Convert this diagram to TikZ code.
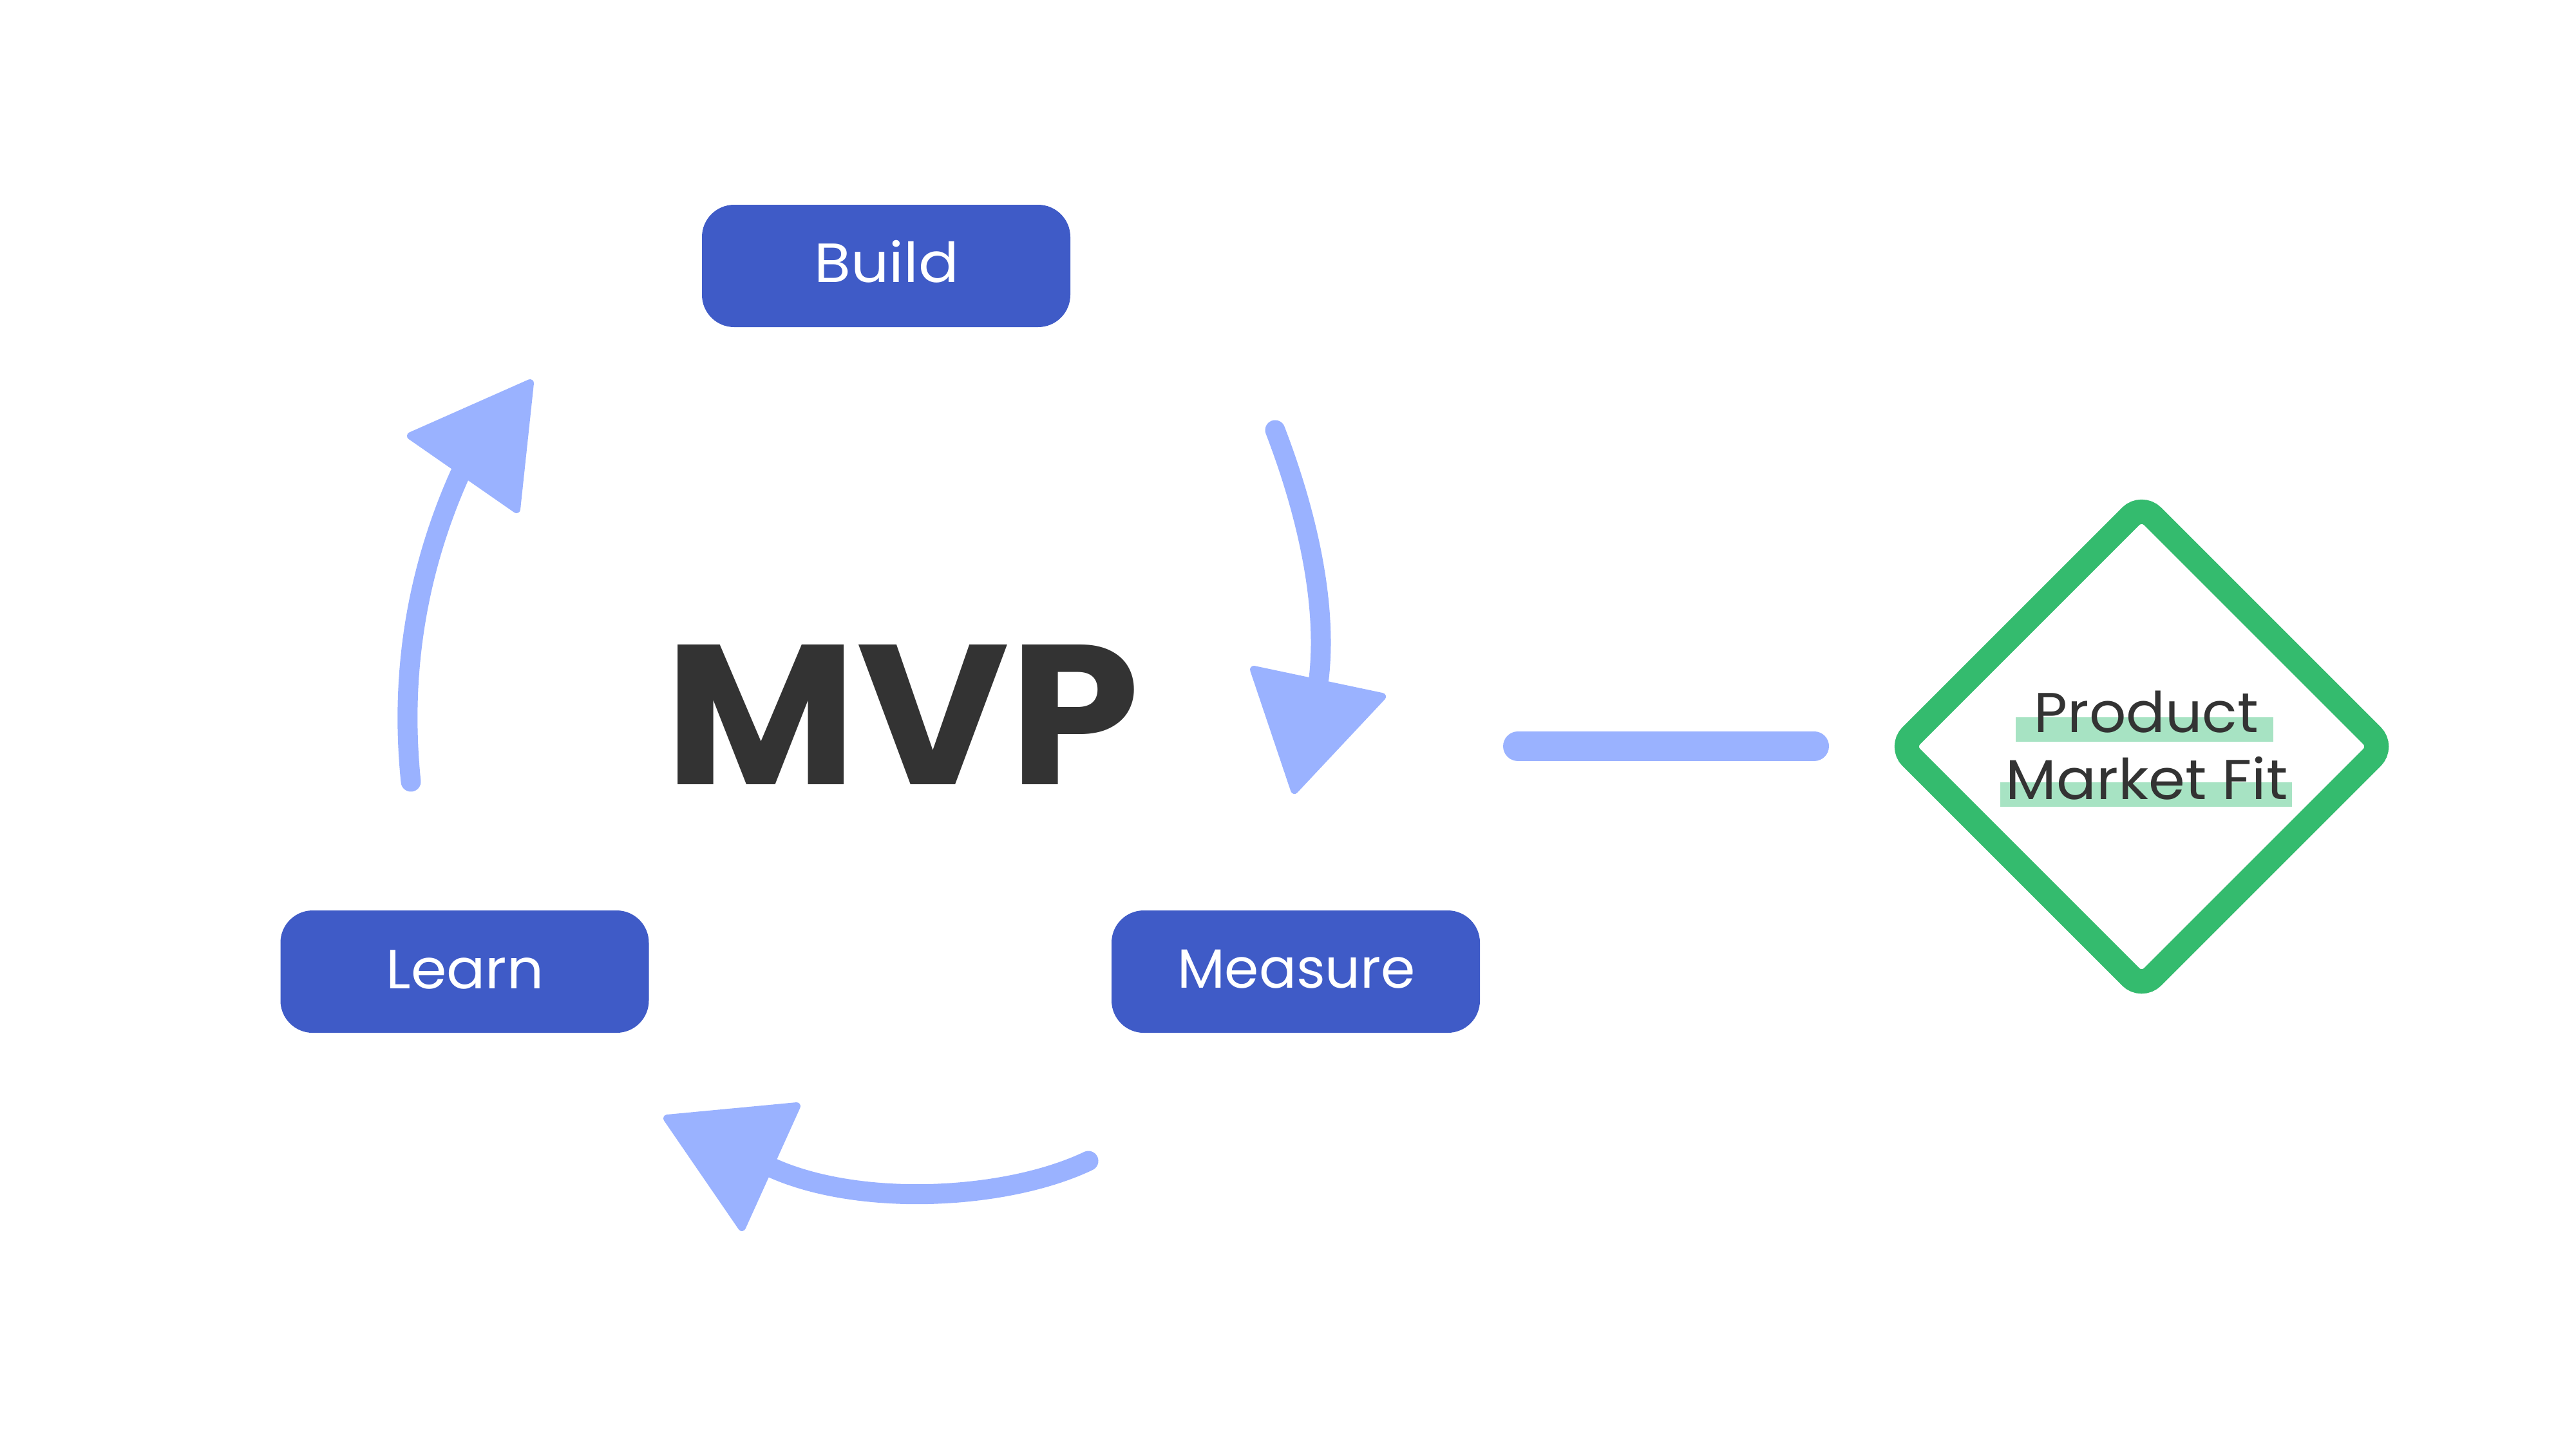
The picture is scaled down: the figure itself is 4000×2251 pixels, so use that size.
\documentclass[tikz,border=0pt]{standalone}
\usepackage{fontspec}
\setmainfont{Poppins}
\usetikzlibrary{shapes.geometric}
\definecolor{boxblue}{HTML}{3F5BC7}
\definecolor{arrowblue}{HTML}{9AB2FF}
\definecolor{fitgreen}{HTML}{34BB6E}
\definecolor{hlgreen}{HTML}{A7E3C3}
\definecolor{darktext}{HTML}{333333}
\tikzset{
  stagebox/.style={rectangle, rounded corners=5mm, fill=boxblue, minimum width=57.2mm, minimum height=19mm, inner sep=0pt},
  stagetext/.style={anchor=base, text=white, inner sep=0pt, font=\fontsize{24.4pt}{29pt}\selectfont},
  fittext/.style={anchor=base, text=darktext, inner sep=0pt, font=\fontsize{24.8pt}{29pt}\selectfont},
  shaft/.style={draw=arrowblue, line width=3.1mm, line cap=round},
  headtri/.style={fill=arrowblue, draw=arrowblue, line width=1.2mm, line join=round},
}
\begin{document}
\begin{tikzpicture}[x=0.1mm, y=-0.1mm]
\useasboundingbox (0,0) rectangle (4000,2251);
\fill[white] (0,0) rectangle (4000,2251);

% stage boxes
\node[stagebox] (build) at (1376,413) {};
\node[stagebox] (learn) at (721.5,1509) {};
\node[stagebox] (measure) at (2012,1509) {};
\node[stagetext] (buildtxt) at (1377,438) {\scalebox{1.08}[1]{Build}};
\node[stagetext] (learntxt) at (722,1535) {\scalebox{1.04}[1]{Learn}};
\node[stagetext] (measuretxt) at (2013,1534) {Measure};

% MVP
\node[anchor=base, text=darktext, inner sep=0pt, font=\bfseries\fontsize{88pt}{100pt}\selectfont] (mvp) at (1401.5,1218) {\scalebox{1.049}[1]{MVP}};

% arrow Learn -> Build
\coordinate (a1s) at (638,1214);
\coordinate (a1e) at (714,737);
\draw[shaft] (a1s) .. controls (620,1040) and (650,880) .. (a1e);
\filldraw[headtri] (638,677) -- (823,595) -- (802,791) -- cycle;

% arrow Build -> Measure
\coordinate (a2s) at (1980,668);
\coordinate (a2e) at (2048,1053);
\draw[shaft] (a2s) .. controls (2025,785) and (2062,930) .. (a2e);
\filldraw[headtri] (1947,1040) -- (2146,1082) -- (2010,1227) -- cycle;

% arrow Measure -> Learn
\coordinate (a3s) at (1690,1803);
\coordinate (a3e) at (1195,1812);
\draw[shaft] (a3s) .. controls (1560,1865) and (1330,1875) .. (a3e);
\filldraw[headtri] (1237,1718) -- (1152,1906) -- (1036,1737) -- cycle;

% connector to diamond
\coordinate (ls) at (2357,1159);
\coordinate (le) at (2817,1159);
\draw[draw=arrowblue, line width=4.6mm, line cap=round] (ls) -- (le);

% diamond
\node[diamond, draw=fitgreen, line width=3.8mm, rounded corners=2.4mm, minimum width=76.5mm, minimum height=76.5mm, inner sep=0pt] (pmf) at (3325.5,1159.5) {};
\fill[hlgreen] (3130,1114) rectangle (3530,1152);
\fill[hlgreen] (3106,1215) rectangle (3559,1253);
\node[fittext] (prod) at (3333,1137) {\scalebox{1.03}[1]{Product}};
\node[fittext] (mfit) at (3333.5,1241) {\scalebox{1.05}[1]{Market Fit}};
\end{tikzpicture}
\end{document}
